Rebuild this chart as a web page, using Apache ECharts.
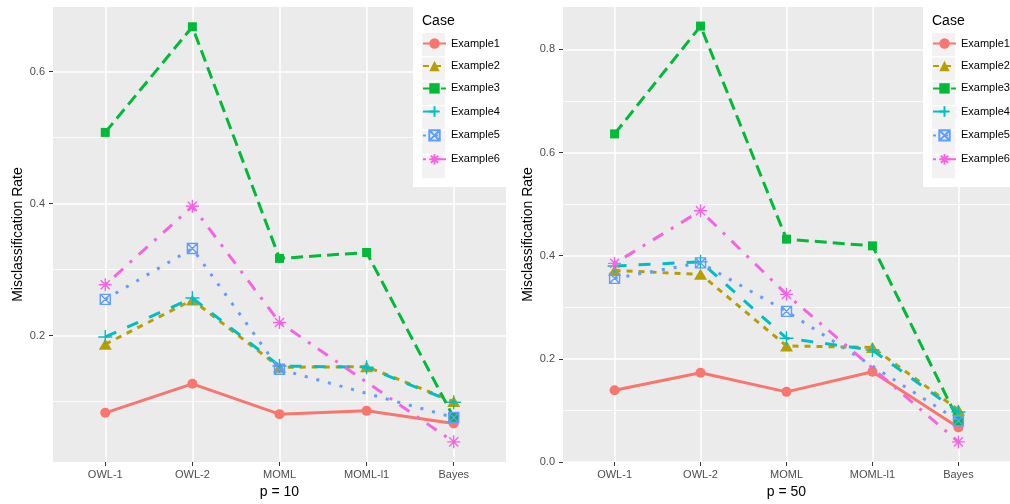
<!DOCTYPE html>
<html><head><meta charset="utf-8">
<script src="https://cdn.jsdelivr.net/npm/echarts@6/dist/echarts.min.js"></script>
<style>html,body{margin:0;padding:0;background:#fff}#c{width:1010px;height:504px}</style>
</head><body><div id="c"></div><script>
// ---- data ----
const categories = ['OWL-1', 'OWL-2', 'MOML', 'MOML-l1', 'Bayes'];
const caseNames = ['Example1', 'Example2', 'Example3', 'Example4', 'Example5', 'Example6'];
const panelTitles = ['p = 10', 'p = 50'];
const yMajorTicksP10 = [0.2, 0.4, 0.6];
const yMinorTicksP10 = [0.1, 0.3, 0.5];
const yMajorTicksP50 = [0.0, 0.2, 0.4, 0.6, 0.8];
const yMinorTicksP50 = [0.1, 0.3, 0.5, 0.7];

// null = no result for that method (line joins neighbours)
const p10Example1 = [0.083, 0.127, 0.081, 0.086, 0.067];
const p10Example2 = [0.187, 0.254, 0.152, 0.153, 0.100];
const p10Example3 = [0.508, 0.668, 0.317, 0.326, 0.076];
const p10Example4 = [0.198, 0.257, 0.154, 0.152, 0.099];
const p10Example5 = [0.255, 0.332, 0.149, null, 0.076];
const p10Example6 = [0.277, 0.396, 0.220, null, 0.039];

const p50Example1 = [0.139, 0.173, 0.136, 0.175, 0.067];
const p50Example2 = [0.371, 0.364, 0.225, 0.222, 0.101];
const p50Example3 = [0.636, 0.845, 0.432, 0.419, 0.080];
const p50Example4 = [0.380, 0.388, 0.240, 0.217, 0.097];
const p50Example5 = [0.356, 0.386, 0.292, null, 0.080];
const p50Example6 = [0.385, 0.487, 0.325, null, 0.039];

const panelData = [
  [p10Example1, p10Example2, p10Example3, p10Example4, p10Example5, p10Example6],
  [p50Example1, p50Example2, p50Example3, p50Example4, p50Example5, p50Example6]
];

// ---- styles ----
const FONT = 'Liberation Sans, Arial, sans-serif';
const colors = ['#F8766D', '#B79F00', '#00BA38', '#00BFC4', '#619CFF', '#F564E3'];
const dashes = ['solid', [6, 6], [12, 6], [12, 12], [3, 9], [3, 9, 12, 9]];
const symbols = [
  'circle',
  'triangle',
  'rect',
  'path://M5,0L5,10M0,5L10,5',
  'path://M0,0L10,0L10,10L0,10ZM0,0L10,10M10,0L0,10',
  'path://M5,0L5,10M0,5L10,5M1.5,1.5L8.5,8.5M8.5,1.5L1.5,8.5'
];
const symbolSizes = [10, [13, 11], 9, 14, 10, 13];
const filled = [true, true, true, false, false, false];

const panels = [
  { left: 53, yMin: 0.0085, yMax: 0.698, major: yMajorTicksP10, minor: yMinorTicksP10 },
  { left: 563, yMin: 0, yMax: 0.882, major: yMajorTicksP50, minor: yMinorTicksP50 }
];
const GRID_TOP = 7, GRID_W = 453, GRID_H = 455;

const grid = [], xAxis = [], yAxis = [], series = [], legend = [], graphic = [];
panels.forEach((p, pi) => {
  grid.push({ left: p.left, top: GRID_TOP, width: GRID_W, height: GRID_H, show: true,
    backgroundColor: '#EBEBEB', borderWidth: 0 });
  xAxis.push({
    type: 'value', gridIndex: pi, min: -0.6, max: 4.6, position: 'bottom',
    name: panelTitles[pi], nameLocation: 'middle', nameGap: 22,
    nameTextStyle: { fontSize: 14, color: '#000', fontFamily: FONT },
    axisLine: { show: false, onZero: false },
    axisTick: { show: true, length: 4, customValues: [0, 1, 2, 3, 4], lineStyle: { color: '#333', width: 1 } },
    axisLabel: { customValues: [0, 1, 2, 3, 4], margin: 7, fontSize: 11, color: '#4D4D4D', fontFamily: FONT,
      formatter: v => categories[Math.round(v)] },
    splitLine: { show: true, lineStyle: { color: '#fff', width: 1.6 } }
  });
  yAxis.push({
    type: 'value', gridIndex: pi, min: p.yMin, max: p.yMax, position: 'left',
    name: 'Misclassification Rate', nameLocation: 'middle', nameGap: 28,
    nameTextStyle: { fontSize: 14, color: '#000', fontFamily: FONT },
    axisLine: { show: false, onZero: false },
    axisTick: { show: true, length: 4, customValues: p.major, lineStyle: { color: '#333', width: 1 } },
    axisLabel: { customValues: p.major, margin: 8, fontSize: 11, color: '#4D4D4D', fontFamily: FONT,
      formatter: v => v.toFixed(1) },
    splitLine: { show: true, lineStyle: { color: '#fff', width: 1.6 } }
  });
});
// minor y axes (grid lines only)
panels.forEach((p, pi) => {
  yAxis.push({
    type: 'value', gridIndex: pi, min: p.yMin, max: p.yMax, position: 'left',
    axisLine: { show: false, onZero: false },
    axisTick: { show: false, customValues: p.minor },
    axisLabel: { show: false, customValues: p.minor },
    splitLine: { show: true, lineStyle: { color: '#fff', width: 0.8 } }
  });
});

panels.forEach((p, pi) => {
  panelData[pi].forEach((vals, si) => {
    series.push({
      type: 'line', name: caseNames[si], xAxisIndex: pi, yAxisIndex: pi,
      data: vals.map((v, i) => [i, v == null ? '-' : v]),
      connectNulls: true,
      symbol: symbols[si], symbolSize: symbolSizes[si], showSymbol: true,
      lineStyle: { color: colors[si], width: 3, type: dashes[si], cap: 'butt' },
      itemStyle: filled[si]
        ? { color: colors[si], borderWidth: 0 }
        : { color: 'rgba(0,0,0,0)', borderColor: colors[si], borderWidth: 1.4 },
      emphasis: { disabled: true },
      z: 2 + si * 0.01
    });
  });

  // legend (inside panel, top-right)
  const boxLeft = p.left + GRID_W - 93;
  const keyLeft = boxLeft + 9;
  const keyTop = 33, keyStep = 24.45, keySize = 23;
  graphic.push({ type: 'rect', z: 3, shape: { x: boxLeft, y: GRID_TOP - 2, width: 93, height: 182 }, style: { fill: '#fff' } });
  graphic.push({ type: 'text', z: 3, x: keyLeft, y: 14, style: { text: 'Case', fontSize: 14, fontFamily: FONT, fill: '#000' } });
  caseNames.forEach((n, i) => {
    graphic.push({ type: 'rect', z: 3, shape: { x: keyLeft, y: keyTop + i * keyStep, width: keySize, height: keySize }, style: { fill: '#F2F2F2' } });
  });
  legend.push({
    data: caseNames, orient: 'vertical', left: keyLeft, top: keyTop + (keySize - 13) / 2,
    itemWidth: keySize, itemHeight: 13, itemGap: keyStep - 13, padding: 0,
    selectedMode: false, z: 4,
    textStyle: { fontSize: 11, color: '#000', fontFamily: FONT }
  });
});

const chart = echarts.init(document.getElementById('c'), null, { renderer: 'canvas' });
chart.setOption({ animation: false, backgroundColor: '#fff', grid, xAxis, yAxis, series, legend, graphic });
</script></body></html>
